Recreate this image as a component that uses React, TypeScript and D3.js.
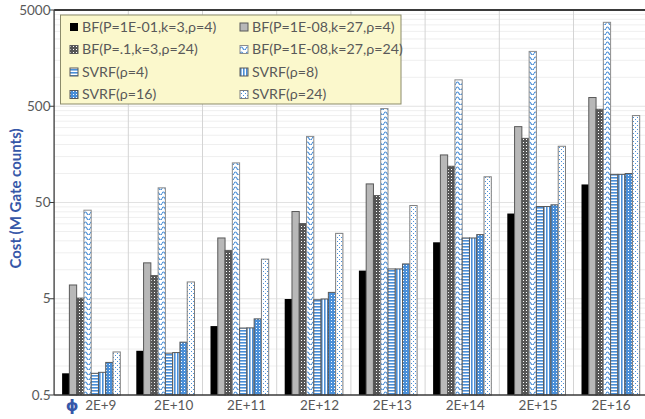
import React from 'react';
import * as d3 from 'd3';

const categories = ['2E+9', '2E+10', '2E+11', '2E+12', '2E+13', '2E+14', '2E+15', '2E+16'];
const seriesNames = [
  'BF(P=1E-01,k=3,ρ=4)',
  'BF(P=1E-08,k=27,ρ=4)',
  'BF(P=.1,k=3,ρ=24)',
  'BF(P=1E-08,k=27,ρ=24)',
  'SVRF(ρ=4)',
  'SVRF(ρ=8)',
  'SVRF(ρ=16)',
  'SVRF(ρ=24)',
];
const bfP1k3r4 = [0.84, 1.44, 2.6, 4.97, 9.8, 19.3, 38.4, 77];
const bfP8k27r4 = [6.95, 11.8, 21.4, 40.3, 78, 156, 307, 616];
const bfP1k3r24 = [5.08, 8.7, 15.9, 30.2, 59, 119, 232, 465];
const bfP8k27r24 = [41.6, 71, 129, 243, 473, 940, 1857, 3724];
const svrf4 = [0.84, 1.36, 2.48, 4.88, 10.2, 21.4, 45.4, 98];
const svrf8 = [0.86, 1.38, 2.49, 4.97, 10.2, 21.4, 45.4, 98];
const svrf16 = [1.09, 1.77, 3.09, 5.82, 11.5, 23.2, 47.3, 100];
const svrf24 = [1.4, 7.47, 12.9, 23.9, 46.5, 92.5, 192, 400];
const yTicks = [0.5, 5, 50, 500, 5000];
const yTickLabels = ['0.5', '5', '50', '500', '5000'];

const seriesValues = [bfP1k3r4, bfP8k27r4, bfP1k3r24, bfP8k27r24, svrf4, svrf8, svrf16, svrf24];
const fills = ['#000000', '#b8b8b8', 'url(#pDark)', 'url(#pWave)', 'url(#pHor)', 'url(#pVer)', 'url(#pBlueDot)', 'url(#pSparse)'];
const strokes = ['#000000', '#595959', '#595959', '#8c8c8c', '#595959', '#595959', '#595959', '#7f7f7f'];

const BLUE = '#4a8fd8';
const W = 645;
const H = 419;
const left = 54.1;
const step = 74.2;
const top = 10;
const bottom = 395;

export default function App() {
  const x0 = d3.scaleBand<string>().domain(categories).range([left, left + step * categories.length]).paddingInner(0).paddingOuter(0);
  const x1 = d3.scaleBand<string>().domain(seriesNames).range([0, x0.bandwidth()]).paddingInner(0).paddingOuter(1.1);
  const y = d3.scaleLog().domain([0.5, 5000]).range([bottom, top]);
  const xl = d3.scalePoint<string>().domain(categories).range([100.8, 611]);

  const minor: number[] = [];
  for (let dec = 0.5; dec < 5000; dec *= 10) {
    for (let k = 2; k <= 9; k++) minor.push(dec * k);
  }

  const font = 'Lato, "Open Sans", sans-serif';

  const legendRows = [0, 1, 2, 3];
  return (
    <svg width={W} height={H} style={{ position: 'absolute', left: 0, top: 0, background: '#fff' }}>
      <defs>
        <pattern id="pDark" patternUnits="userSpaceOnUse" width="3" height="3">
          <rect width="3" height="3" fill="#555555" />
          <rect x="1" y="1" width="1" height="1" fill="#ffffff" />
        </pattern>
        <pattern id="pWave" patternUnits="userSpaceOnUse" width="6" height="5">
          <rect width="6" height="5" fill="#ffffff" />
          <path d="M0,3.5 Q1.5,0.5 3,3.5 T6,3.5" fill="none" stroke={BLUE} strokeWidth="1.2" />
        </pattern>
        <pattern id="pHor" patternUnits="userSpaceOnUse" width="3" height="3">
          <rect width="3" height="3" fill="#ffffff" />
          <rect width="3" height="1.6" fill={BLUE} />
        </pattern>
        <pattern id="pVer" patternUnits="userSpaceOnUse" width="3" height="3">
          <rect width="3" height="3" fill="#ffffff" />
          <rect width="1.6" height="3" fill={BLUE} />
        </pattern>
        <pattern id="pBlueDot" patternUnits="userSpaceOnUse" width="3" height="3">
          <rect width="3" height="3" fill={BLUE} />
          <rect x="1" y="1" width="1" height="1" fill="#ffffff" />
        </pattern>
        <pattern id="pSparse" patternUnits="userSpaceOnUse" width="4" height="4">
          <rect width="4" height="4" fill="#ffffff" />
          <rect x="1" y="1" width="1" height="1" fill={BLUE} />
          <rect x="3" y="3" width="1" height="1" fill={BLUE} />
        </pattern>
      </defs>
      <rect width={W} height={H} fill="#ffffff" />

      {minor.map((v, i) => (
        <line key={'mn' + i} x1={left} x2={W} y1={y(v)} y2={y(v)} stroke="#efefef" strokeWidth={1} />
      ))}
      {yTicks.slice(1, -1).map((v, i) => (
        <line key={'mj' + i} x1={left} x2={W} y1={y(v)} y2={y(v)} stroke="#e2e2e2" strokeWidth={1} />
      ))}
      {categories.slice(1).map((c, i) => (
        <line key={'vg' + i} x1={x0(c)} x2={x0(c)} y1={top} y2={bottom} stroke="#d4d4d4" strokeWidth={1} />
      ))}

      {seriesValues.map((vals, s) => (
        <g key={'s' + s}>
          {vals.map((v, i) => {
            const bx = (x0(categories[i]) as number) + (x1(seriesNames[s]) as number);
            const by = y(v);
            return (
              <rect
                key={i}
                x={bx}
                y={by}
                width={x1.bandwidth()}
                height={bottom - by}
                fill={fills[s]}
                stroke={strokes[s]}
                strokeWidth={s === 0 ? 0 : 1}
              />
            );
          })}
        </g>
      ))}

      <line x1={left} x2={W} y1={top} y2={top} stroke="#3a3a3a" strokeWidth={2} />
      <line x1={left} x2={left} y1={top} y2={bottom} stroke="#3a3a3a" strokeWidth={1.3} />
      <line x1={left} x2={W} y1={bottom} y2={bottom} stroke="#3a3a3a" strokeWidth={1.5} />
      {yTicks.map((v, i) => (
        <g key={'yt' + i}>
          <line x1={left - 5} x2={left} y1={y(v)} y2={y(v)} stroke="#3a3a3a" strokeWidth={1} />
          <text x={50.5} y={y(v)} dy="0.35em" textAnchor="end" fontFamily={font} fontSize={13.5} fill="#595959">
            {yTickLabels[i]}
          </text>
        </g>
      ))}
      {categories.map((c) => (
        <text key={'xl' + c} x={xl(c)} y={410} textAnchor="middle" fontFamily={font} fontSize={13.5} fill="#595959">
          {c}
        </text>
      ))}
      <text x={72} y={411} textAnchor="middle" fontFamily='"DejaVu Sans", sans-serif' fontWeight="bold" fontSize={16} fill="#3657a8">
        ϕ
      </text>
      <text
        transform={`translate(16,${(top + bottom) / 2 - 4}) rotate(-90)`}
        textAnchor="middle"
        dy="0.35em"
        fontFamily={font}
        fontWeight="bold"
        fontSize={15}
        fill="#3657a8"
      >
        Cost (M Gate counts)
      </text>

      <rect x={60.5} y={15} width={340.5} height={89} fill="#fbf8cc" stroke="#8b8b6b" strokeWidth={1} />
      {legendRows.map((r) =>
        [0, 1].map((col) => {
          const s = r * 2 + col;
          const cy = 27 + r * 22.5;
          const mx = col === 0 ? 70 : 240;
          return (
            <g key={'lg' + s}>
              <rect x={mx} y={cy - 4} width={8} height={8} fill={fills[s]} stroke={strokes[s]} strokeWidth={s === 0 ? 0 : 1} />
              <text x={mx + 12} y={cy} dy="0.35em" fontFamily={font} fontSize={14.2} fill="#595959">
                {seriesNames[s]}
              </text>
            </g>
          );
        })
      )}
    </svg>
  );
}
